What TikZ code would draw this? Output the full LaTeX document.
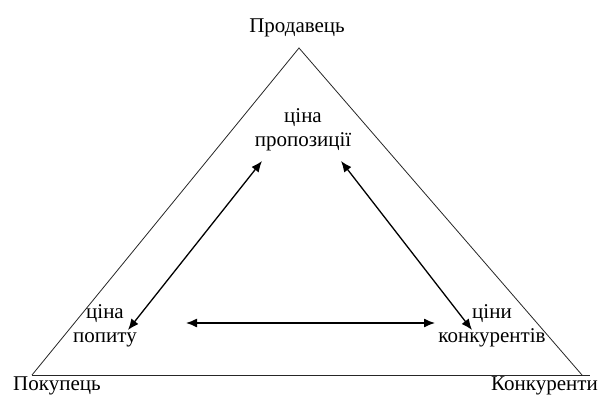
\documentclass[tikz,border=0pt]{standalone}
\usepackage{fontspec}
\setmainfont{Liberation Serif}
\usetikzlibrary{arrows.meta}
\begin{document}
\begin{tikzpicture}[x=1pt,y=-1pt,
  lbl/.style={font=\fontsize{21}{24}\selectfont, inner sep=0pt, align=center},
  edge/.style={line width=0.8pt, draw=black!85},
  link/.style={line width=1.3pt, {Latex[length=11pt,width=9pt]}-{Latex[length=11pt,width=9pt]}}]
\useasboundingbox (0,0) rectangle (600,396);
% corners of the triangle
\coordinate (top) at (299,48);
\coordinate (bl) at (32,375);
\coordinate (br) at (582,375);
\coordinate (bend) at (590,375);
\draw[edge] (bl) -- (top) -- (br);
\draw[edge] (bl) -- (bend);
% corner labels
\node[lbl, anchor=base] (seller) at (297,33) {Продавець};
\node[lbl, anchor=base west] (buyer) at (13,390) {Покупець};
\node[lbl, anchor=base east] (rivals) at (598,390) {Конкуренти};
% inner labels
\node[lbl] (offer) at (303,130) {ціна\\пропозиції};
\node[lbl] (demand) at (105,326) {ціна\\попиту};
\node[lbl] (market) at (492,326) {ціни\\конкурентів};
% arrow ends
\coordinate (o1) at (262,161);
\coordinate (o2) at (341,161);
\coordinate (d1) at (128,330);
\coordinate (d2) at (186,323);
\coordinate (m1) at (472,330);
\coordinate (m2) at (435,323);
\draw[link] (o1) -- (d1);
\draw[link] (o2) -- (m1);
\draw[link] (d2) -- (m2);
\end{tikzpicture}
\end{document}
